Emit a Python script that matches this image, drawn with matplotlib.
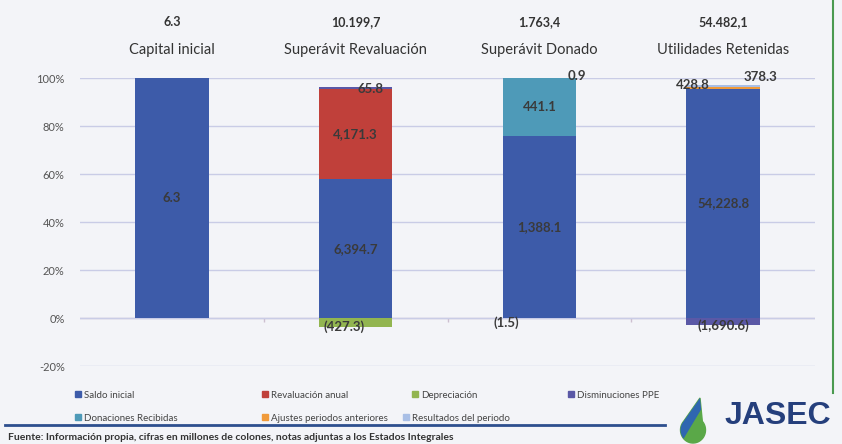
import numpy as np
import matplotlib
matplotlib.use("Agg")
import matplotlib.pyplot as plt
from matplotlib.patches import Patch, Polygon
from matplotlib.lines import Line2D

plt.rcParams['font.family'] = ['Lato', 'DejaVu Sans']

# datos
categorias = ["Capital inicial", "Superávit Revaluación", "Superávit Donado", "Utilidades Retenidas"]
totales = ["6.3", "10.199,7", "1.763,4", "54.482,1"]

series = ["Saldo inicial", "Revaluación anual", "Depreciación", "Disminuciones PPE",
          "Donaciones Recibidas", "Ajustes periodos anteriores", "Resultados del periodo"]
saldo_inicial = [6.3, 6394.7, 1388.1, 54228.8]
revaluacion_anual = [0, 4171.3, 0, 0]
depreciacion = [0, -427.3, -1.5, 0]
disminuciones_ppe = [0, 65.8, 0, -1690.6]
donaciones = [0, 0, 441.1, 0]
ajustes = [0, 0, 0.9, 428.8]
resultados = [0, 0, 0, 378.3]

colores = ['#3d5ba9', '#c0403a', '#92b550', '#5a58a6', '#4e9ab8', '#f09a3a', '#a9bfe6']

# desplazamiento de etiquetas (pixeles) para los segmentos pequenos
desplaza = {(2, 1): (-12, -4), (3, 1): (15, -1), (2, 2): (-33, -5), (5, 2): (37, 2),
            (3, 3): (0, -4), (5, 3): (-30, 3), (6, 3): (37, 9)}

vals = np.array([saldo_inicial, revaluacion_anual, depreciacion, disminuciones_ppe,
                 donaciones, ajustes, resultados])
# 100% apilado tipo Excel: se normaliza con la suma de valores absolutos
pct = vals / np.abs(vals).sum(axis=0) * 100

fondo = '#f3f4f8'
fig = plt.figure(figsize=(8.42, 4.44), dpi=100, facecolor=fondo)
ax = fig.add_axes([80 / 842, 1 - 366 / 444, 735 / 842, 288 / 444], facecolor=fondo)

x = np.arange(len(categorias))
pos = np.zeros(len(categorias))
neg = np.zeros(len(categorias))
for i, nombre in enumerate(series):
    p = pct[i]
    base = np.where(p >= 0, pos, neg)
    ax.bar(x, p, bottom=base, width=0.4, color=colores[i], zorder=2)
    for j in range(len(categorias)):
        v = vals[i, j]
        if v == 0:
            continue
        txt = f"{v:,.1f}" if v > 0 else f"({-v:,.1f})"
        ax.annotate(txt, (x[j], base[j] + p[j] / 2), xytext=desplaza.get((i, j), (0, 0)),
                    textcoords='offset pixels', ha='center', va='center',
                    fontsize=9.5, fontweight='bold', color='#3a3a3a', zorder=4)
    pos = pos + np.where(p > 0, p, 0)
    neg = neg + np.where(p < 0, p, 0)

ax.set_xlim(-0.5, len(categorias) - 0.5)
ax.set_ylim(-20, 100)
ax.set_yticks(np.arange(-20, 101, 20))
ax.set_yticklabels([f"{t}%" for t in range(-20, 101, 20)], fontsize=8, color='#555555')
ax.tick_params(axis='y', length=0, pad=11)
ax.set_xticks([])
ax.yaxis.grid(True, color='#c9cce6', lw=1, zorder=0)
ax.axhline(0, color='#cdbfd0', lw=1, zorder=1)
ax.vlines(x[:-1] + 0.5, -1.5, 0, color='#cdbfd0', lw=1, zorder=1)
for s in ax.spines.values():
    s.set_visible(False)

tr = ax.get_xaxis_transform()
for j, cat in enumerate(categorias):
    ax.text(x[j], 1.194, totales[j], transform=tr, ha='center', va='center',
            fontsize=9, fontweight='bold', color='#333333')
    ax.text(x[j], 1.097, cat, transform=tr, ha='center', va='center',
            fontsize=10.5, color='#333333')

# leyenda en dos filas como en el original
lugares = [(75, 395), (262, 395), (412, 395), (568, 395), (75, 418), (262, 418), (403, 418)]
for i, nombre in enumerate(series):
    lx, ly = lugares[i]
    fig.legend(handles=[Patch(color=colores[i], label=nombre)], loc='center left',
               bbox_to_anchor=(lx / 842, 1 - ly / 444), frameon=False, fontsize=7,
               handlelength=0.6, handleheight=0.6, handletextpad=0.3,
               borderpad=0, borderaxespad=0, labelcolor='#444444')

# marco del documento
fig.add_artist(Line2D([5 / 842, 665 / 842], [1 - 425 / 444] * 2, color='#2d4f8e', lw=2))
fig.add_artist(Line2D([833 / 842] * 2, [1, 1 - 393 / 444], color='#4a9a50', lw=1.5))

# logo
gota_pts = [(693 + 12.5 * np.sin(a), 430 + 13 * np.cos(a)) for a in np.linspace(-2.3, 2.3, 40)]
gota_pts = [(700, 398)] + gota_pts
gota = Polygon([(px / 842, 1 - py / 444) for px, py in gota_pts], closed=True,
               transform=fig.transFigure, color='#5aa848')
fig.add_artist(gota)
azul = Polygon([(px / 842, 1 - py / 444) for px, py in [(670, 390), (712, 390), (682, 440), (670, 440)]],
               closed=True, transform=fig.transFigure, color='#2f66b0')
azul.set_clip_path(gota)
fig.add_artist(azul)
fig.text(725 / 842, 1 - 416 / 444, "JASEC", fontsize=23, fontweight='bold',
         color='#253f7c', family=['Liberation Sans', 'DejaVu Sans'], va='center', ha='left')

fig.text(8 / 842, 1 - 437 / 444,
         "Fuente: Información propia, cifras en millones de colones, notas adjuntas a los Estados Integrales",
         fontsize=7.5, fontweight='bold', color='#333333', va='center', ha='left')

fig.savefig("out.png", dpi=100, facecolor=fondo)
